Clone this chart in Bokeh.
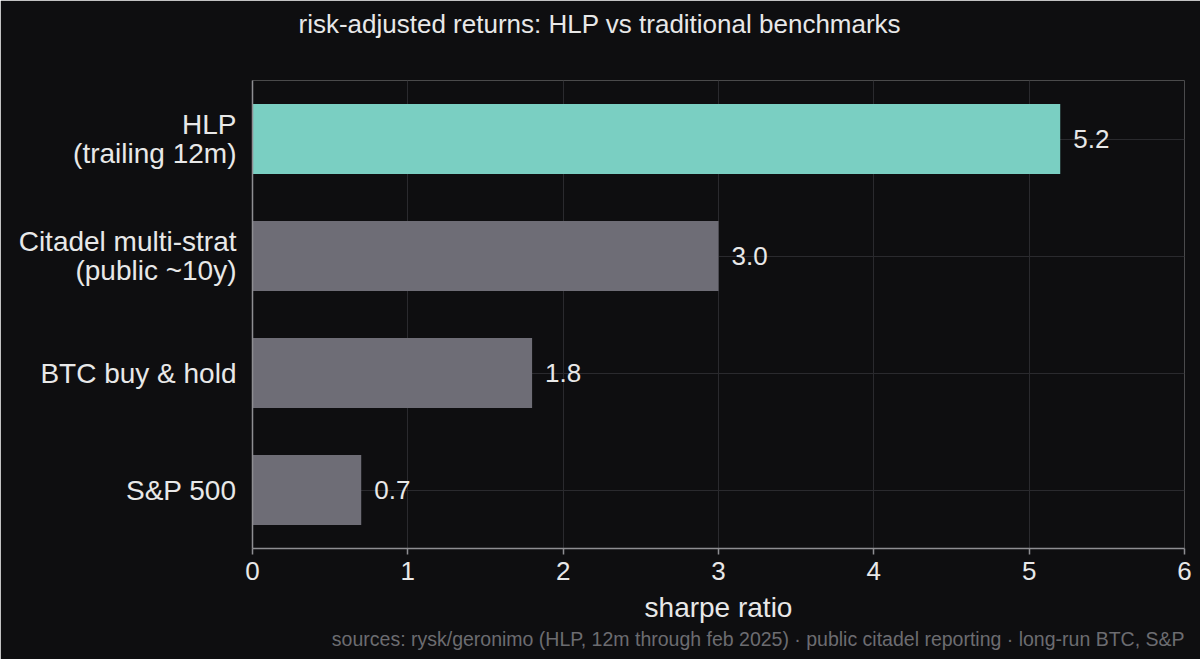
from bokeh.plotting import figure
from bokeh.models import ColumnDataSource, Range1d, FactorRange, FixedTicker, Title
from bokeh.core.properties import value
from bokeh.embed import file_html
from bokeh.resources import INLINE

# data
categories = ["HLP\n(trailing 12m)", "Citadel multi-strat\n(public ~10y)", "BTC buy & hold", "S&P 500"]
sharpe = [5.2, 3.0, 1.8, 0.7]
x_ticks = [0, 1, 2, 3, 4, 5, 6]

title_text = "risk-adjusted returns: HLP vs traditional benchmarks"
xlabel_text = "sharpe ratio"
source_text = "sources: rysk/geronimo (HLP, 12m through feb 2025) \u00b7 public citadel reporting \u00b7 long-run BTC, S&P"

BG = "#0e0e10"
TEAL = "#7acfc2"
GREY = "#6e6d76"
TXT = "#e8e8e8"
FONT = "Liberation Sans"

colors = [TEAL] + [GREY] * (len(categories) - 1)
src = ColumnDataSource(data=dict(
    cat=categories,
    val=sharpe,
    color=colors,
    lab=["%.1f" % v for v in sharpe],
))

p = figure(width=1200, height=659,
           y_range=FactorRange(factors=categories[::-1], range_padding=0),
           x_range=Range1d(0, 6),
           output_backend="svg", toolbar_location=None,
           min_border_left=252, min_border_right=16,
           min_border_top=80, min_border_bottom=111)

p.background_fill_color = BG
p.border_fill_color = BG
p.outline_line_color = None

p.hbar(y="cat", right="val", height=0.6, color="color", line_color=None, source=src)

p.text(x="val", y="cat", text="lab", source=src, x_offset=13,
       text_baseline="middle", text_align="left",
       text_font=value(FONT), text_font_size="26px", text_color=TXT)

# grid
p.xgrid.ticker = FixedTicker(ticks=x_ticks)
p.xgrid.grid_line_color = "#2a2a2e"
p.ygrid.grid_line_color = "#2a2a2e"

# x axis
p.xaxis.ticker = FixedTicker(ticks=x_ticks)
p.xaxis.axis_line_color = "#8e8e92"
p.xaxis.axis_line_width = 1.5
p.xaxis.major_tick_line_color = "#8e8e92"
p.xaxis.major_tick_line_width = 1.5
p.xaxis.major_tick_out = 6
p.xaxis.major_tick_in = 0
p.xaxis.minor_tick_line_color = None
p.xaxis.major_label_standoff = 7
p.xaxis.major_label_text_font = FONT
p.xaxis.major_label_text_font_size = "26px"
p.xaxis.major_label_text_color = TXT
p.xaxis.axis_label = xlabel_text
p.xaxis.axis_label_standoff = 9
p.xaxis.axis_label_text_font = FONT
p.xaxis.axis_label_text_font_size = "28px"
p.xaxis.axis_label_text_font_style = "normal"
p.xaxis.axis_label_text_color = TXT

# y axis
p.yaxis.axis_line_color = "#8e8e92"
p.yaxis.axis_line_width = 1.5
p.yaxis.major_tick_line_color = None
p.yaxis.major_tick_out = 0
p.yaxis.major_tick_in = 0
p.yaxis.major_label_standoff = 16
p.yaxis.major_label_text_font = FONT
p.yaxis.major_label_text_font_size = "28px"
p.yaxis.major_label_text_line_height = 0.95
p.yaxis.major_label_text_color = TXT

# spacer next to the frame (drawn in background colour) pushes the title up
p.add_layout(Title(text=" ", standoff=20, text_font_size="10px", text_color=BG), "above")
p.add_layout(Title(text=title_text, align="left", offset=46, standoff=14,
                   vertical_align="top",
                   text_font=FONT, text_font_size="26px", text_font_style="normal",
                   text_color=TXT), "above")
p.add_layout(Title(text=source_text, align="right", offset=0, standoff=0,
                   text_font=FONT, text_font_size="19.5px", text_font_style="normal",
                   text_color="#6c6c70"), "below")

open("out.html", "w").write(file_html(p, INLINE))
